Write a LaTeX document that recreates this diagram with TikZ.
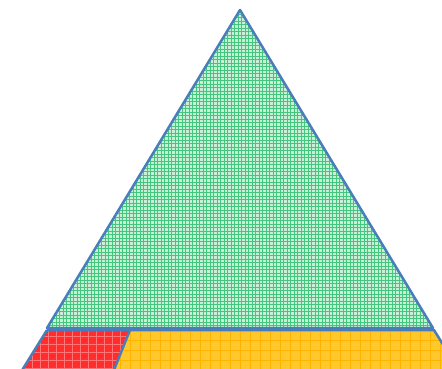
\documentclass[tikz,border=0pt]{standalone}
\usepackage{tikz}
\usetikzlibrary{calc}
\definecolor{edgeblue}{RGB}{74,126,187}
\definecolor{meshgreen}{RGB}{0,176,80}
\definecolor{mintfill}{RGB}{200,240,215}
\definecolor{brickred}{RGB}{255,45,45}
\definecolor{amber}{RGB}{255,200,45}
\definecolor{amberline}{RGB}{255,180,0}
\tikzset{outline/.style={draw=edgeblue, line width=2.5pt, line join=round}}
\tikzset{meshline/.style={draw=meshgreen, line width=0.6pt, opacity=0.65}}
\tikzset{cellline/.style={draw=white, line width=0.6pt, opacity=0.35}}

\begin{document}
\begin{tikzpicture}[x=1pt,y=-1pt]
  \useasboundingbox (0,0) rectangle (442,369);
  % pyramid corners, in pixels from the top left
  \coordinate (apex) at (240,10);
  \coordinate (baseL) at (47,328);
  \coordinate (baseR) at (433,328);
  \coordinate (bandTL) at (47,330);
  \coordinate (bandTR) at (434,330);
  \coordinate (bandBL) at (16,380);
  \coordinate (bandBR) at (465,380);
  \coordinate (splitT) at (130,330);
  \coordinate (splitB) at (110,380);
  \begin{scope}
    \clip (0,0) rectangle (442,369);
    % top triangle
    \fill[mintfill] (apex) -- (baseL) -- (baseR) -- cycle;
    \begin{scope}
      \clip (apex) -- (baseL) -- (baseR) -- cycle;
      \draw[meshline, step=3.5pt] (40,0) grid (440,330);
    \end{scope}
    % lower band, left part
    \fill[brickred] (bandTL) -- (splitT) -- (splitB) -- (bandBL) -- cycle;
    \begin{scope}
      \clip (bandTL) -- (splitT) -- (splitB) -- (bandBL) -- cycle;
      \draw[cellline, step=8pt] (10,322) grid (140,380);
    \end{scope}
    % lower band, right part
    \fill[amber] (splitT) -- (bandTR) -- (bandBR) -- (splitB) -- cycle;
    \begin{scope}
      \clip (splitT) -- (bandTR) -- (bandBR) -- (splitB) -- cycle;
      \draw[amberline, line width=0.6pt, step=10pt] (100,320) grid (470,380);
    \end{scope}
    % outlines
    \draw[outline] (apex) -- (baseL) -- (baseR) -- cycle;
    \draw[outline] (bandTL) -- (bandTR) -- (bandBR);
    \draw[outline] (bandTL) -- (bandBL);
    \draw[outline] (splitT) -- (splitB);
  \end{scope}
\end{tikzpicture}
\end{document}
